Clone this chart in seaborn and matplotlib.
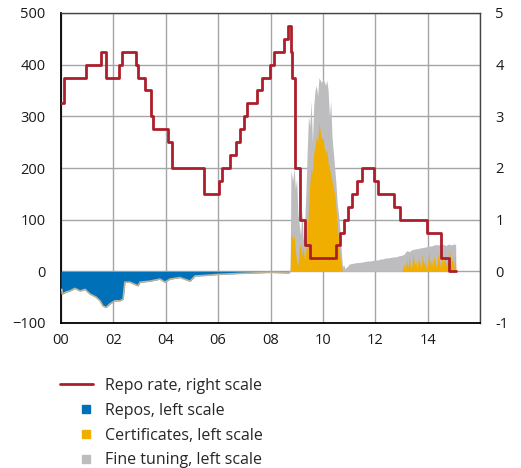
import matplotlib
matplotlib.use("Agg")
import matplotlib.pyplot as plt
import matplotlib.patches as mpatches
from matplotlib.lines import Line2D
from matplotlib.legend_handler import HandlerPatch
import seaborn as sns
import numpy as np

# ---------------- data ----------------
repo_dates = [2000.0, 2000.11, 2000.96, 2001.51, 2001.71, 2002.21, 2002.32, 2002.87, 2002.93,
              2003.21, 2003.43, 2003.51, 2004.10, 2004.25, 2005.47, 2006.05, 2006.15, 2006.47,
              2006.68, 2006.82, 2006.97, 2007.12, 2007.47, 2007.68, 2007.97, 2008.12, 2008.51,
              2008.68, 2008.77, 2008.81, 2008.93, 2009.12, 2009.30, 2009.50, 2010.51, 2010.67,
              2010.82, 2010.96, 2011.12, 2011.30, 2011.51, 2011.97, 2012.12, 2012.70, 2012.96,
              2013.96, 2014.52, 2014.83, 2015.10]
repo_rate = [3.25, 3.75, 4.0, 4.25, 3.75, 4.0, 4.25, 4.0, 3.75,
             3.5, 3.0, 2.75, 2.5, 2.0, 1.5, 1.75, 2.0, 2.25,
             2.5, 2.75, 3.0, 3.25, 3.5, 3.75, 4.0, 4.25, 4.5,
             4.75, 4.25, 3.75, 2.0, 1.0, 0.5, 0.25, 0.5, 0.75,
             1.0, 1.25, 1.5, 1.75, 2.0, 1.75, 1.5, 1.25, 1.0,
             0.75, 0.25, 0.0, 0.0]

repos_dates = [2000.0, 2000.03, 2000.05, 2000.20, 2000.34, 2000.53, 2000.73, 2000.92, 2001.11,
               2001.34, 2001.49, 2001.60, 2001.72, 2001.87, 2002.06, 2002.25, 2002.37, 2002.44,
               2002.63, 2002.94, 2003.02, 2003.40, 2003.78, 2003.97, 2004.16, 2004.54, 2004.93,
               2005.12, 2005.50, 2005.99, 2006.83, 2007.98, 2008.70, 2008.75]
repos = [-35, -35, -44, -40, -38, -33, -38, -35, -44,
         -50, -57, -67, -70, -63, -57, -57, -54, -21,
         -21, -28, -21, -19, -15, -21, -15, -12, -19,
         -9, -8, -6, -4, -2, -3, 0]

cert_dates = [2008.75, 2008.78, 2008.85, 2008.90, 2008.95, 2009.00, 2009.05, 2009.10, 2009.15,
              2009.20, 2009.25, 2009.30, 2009.35, 2009.40, 2009.45, 2009.50, 2009.55, 2009.60,
              2009.65, 2009.70, 2009.75, 2009.80, 2009.85, 2009.90, 2009.95, 2010.00, 2010.05,
              2010.10, 2010.15, 2010.20, 2010.25, 2010.30, 2010.35, 2010.40, 2010.45, 2010.50,
              2010.55, 2010.60, 2010.65, 2010.70, 2010.75]
certificates = [0, 75, 60, 70, 40, 20, 10, 45, 55,
                30, 50, 20, 40, 80, 120, 170, 200, 190,
                230, 240, 260, 250, 290, 270, 255, 260, 240,
                230, 235, 210, 200, 185, 175, 160, 150, 120,
                90, 60, 30, 10, 0]

cert2_dates = [2013.00, 2013.05, 2013.10, 2013.15, 2013.20, 2013.25, 2013.30, 2013.35, 2013.40,
               2013.45, 2013.50, 2013.55, 2013.60, 2013.65, 2013.70, 2013.75, 2013.80, 2013.85,
               2013.90, 2013.95, 2014.00, 2014.05, 2014.10, 2014.15, 2014.20, 2014.25, 2014.30,
               2014.35, 2014.40, 2014.45, 2014.50, 2014.55, 2014.60, 2014.65, 2014.70, 2014.75,
               2014.80, 2014.85, 2014.90, 2014.95, 2015.00, 2015.05, 2015.08]
certificates2 = [0, 4, 15, 2, 25, 6, 30, 5, 12, 35, 10, 20, 4, 28, 15, 6, 33, 12,
                 22, 3, 18, 38, 10, 25, 5, 30, 14, 8, 36, 20, 6, 27, 12, 34, 9, 24,
                 16, 40, 12, 30, 5, 35, 0]

fine_dates = [2008.75, 2008.78, 2008.85, 2008.90, 2008.95, 2009.00, 2009.05, 2009.10, 2009.15,
              2009.20, 2009.25, 2009.30, 2009.35, 2009.40, 2009.45, 2009.50, 2009.55, 2009.60,
              2009.65, 2009.70, 2009.75, 2009.80, 2009.85, 2009.90, 2009.95, 2010.00, 2010.05,
              2010.10, 2010.15, 2010.20, 2010.25, 2010.30, 2010.35, 2010.40, 2010.45, 2010.50,
              2010.55, 2010.60, 2010.65, 2010.70, 2010.75, 2010.80, 2010.85, 2010.90, 2010.95,
              2011.0, 2011.1, 2011.2, 2011.3, 2011.4, 2011.5, 2011.6, 2011.7, 2011.8, 2011.9,
              2012.0, 2012.1, 2012.2, 2012.3, 2012.4, 2012.5, 2012.6, 2012.7, 2012.8, 2012.9,
              2013.0, 2013.1, 2013.2, 2013.3, 2013.4, 2013.5, 2013.6, 2013.7, 2013.8, 2013.9,
              2014.0, 2014.1, 2014.2, 2014.3, 2014.4, 2014.5, 2014.6, 2014.7, 2014.8, 2014.9,
              2015.0, 2015.07, 2015.08]
fine_tuning = [0, 195, 175, 200, 160, 180, 110, 90, 70,
               120, 60, 90, 150, 230, 300, 280, 330, 250,
               320, 350, 360, 340, 375, 370, 365, 372, 368,
               360, 370, 350, 300, 330, 260, 230, 200, 170,
               130, 110, 80, 40, 10, 12, 5, 8, 10,
               14, 15, 16, 17, 17, 18, 19, 20, 20, 21,
               22, 22, 24, 24, 26, 26, 27, 28, 28, 30,
               31, 33, 40, 38, 42, 43, 44, 45, 46, 47,
               48, 49, 50, 52, 51, 53, 52, 50, 53, 51,
               53, 52, 0]

x_ticks = [2000, 2002, 2004, 2006, 2008, 2010, 2012, 2014]
x_labels = ["00", "02", "04", "06", "08", "10", "12", "14"]
left_ticks = [-100, 0, 100, 200, 300, 400, 500]
right_ticks = [-1, 0, 1, 2, 3, 4, 5]

# ---------------- style ----------------
sns.set_style("white")
plt.rcParams['font.family'] = ['Open Sans', 'DejaVu Sans']

RED = "#ab1f2c"
BLUE = "#0071b9"
ORANGE = "#f0ae00"
GRAY = "#bdbdbf"

fig = plt.figure(figsize=(5.21, 4.68), dpi=100)
ax = fig.add_axes([61/521, 1 - 323/468, (480-61)/521, (323-13)/468])

ax.fill_between(fine_dates, 0, fine_tuning, color=GRAY, linewidth=0, zorder=2)
ax.fill_between(cert_dates, 0, certificates, color=ORANGE, linewidth=0, zorder=3)
ax.fill_between(cert2_dates, 0, certificates2, color=ORANGE, linewidth=0, zorder=3)
ax.fill_between(repos_dates, 0, repos, color=BLUE, linewidth=0, zorder=3)
ax.plot(repos_dates, repos, color="#b9b39c", linewidth=1.2, zorder=3)

ax.set_xlim(2000, 2016)
ax.set_ylim(-100, 500)
ax.set_xticks(x_ticks)
ax.set_xticklabels(x_labels)
ax.set_yticks(left_ticks)
ax.set_xticks([2016], minor=True)
ax.grid(True, which="both", color="#a5a5a5", linewidth=1.0, zorder=0)
ax.set_axisbelow(True)
ax.tick_params(axis="both", which="both", length=0, labelsize=10.5, colors="#1a1a1a")
ax.tick_params(axis="y", pad=11)
ax.tick_params(axis="x", pad=7)
for side in ["left", "bottom"]:
    ax.spines[side].set_color("black")
    ax.spines[side].set_linewidth(1.3)
for side in ["top", "right"]:
    ax.spines[side].set_color("#444444")
    ax.spines[side].set_linewidth(1.0)

ax2 = ax.twinx()
sns.lineplot(x=repo_dates, y=repo_rate, ax=ax2, color=RED, linewidth=2.0,
             drawstyle="steps-post", sort=False, zorder=5)
ax2.set_ylim(-1, 5)
ax2.set_yticks(right_ticks)
ax2.set_yticklabels([str(t) for t in right_ticks])
ax2.tick_params(axis="y", length=0, labelsize=10.5, pad=11, colors="#1a1a1a")
ax2.grid(False)
for s in ax2.spines.values():
    s.set_visible(False)
ax2.set_ylabel("")

# ---------------- legend ----------------
def small_square(legend, orig_handle, xdescent, ydescent, width, height, fontsize):
    s = 5.5
    return mpatches.Rectangle((-xdescent + width * 0.78 - s / 2, -ydescent + (height - s) / 2),
                              s, s)

handles = [Line2D([0], [0], color=RED, linewidth=2.0),
           mpatches.Patch(color=BLUE),
           mpatches.Patch(color=ORANGE),
           mpatches.Patch(color=GRAY)]
labels = ["Repo rate, right scale", "Repos, left scale",
          "Certificates, left scale", "Fine tuning, left scale"]
fig.legend(handles, labels, loc="upper left", bbox_to_anchor=(60/521, 1 - 378/468),
           frameon=False, fontsize=11.5, handlelength=2.07, handletextpad=0.75,
           labelspacing=0.55, borderpad=0, borderaxespad=0,
           handler_map={mpatches.Patch: HandlerPatch(patch_func=small_square)})

fig.savefig("out.png", dpi=100)
